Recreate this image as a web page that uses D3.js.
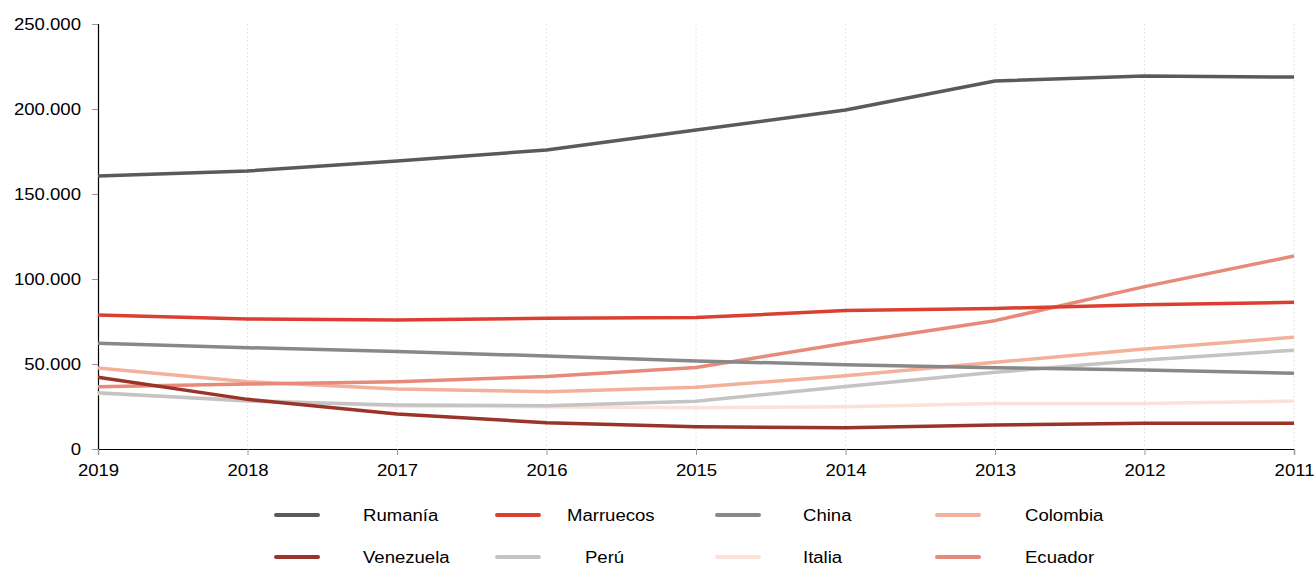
<!DOCTYPE html>
<html><head><meta charset="utf-8">
<script src="https://cdn.jsdelivr.net/npm/d3@7"></script>
<style>body{margin:0;background:#fff;}svg{display:block;font-family:"Liberation Sans",Arial,sans-serif;}</style>
</head><body><svg id="c" width="1315" height="565"></svg>
<script>
const years = ["2019","2018","2017","2016","2015","2014","2013","2012","2011"];
const yTicks = [0, 50000, 100000, 150000, 200000, 250000];
const seriesNames = ["Rumanía","Marruecos","China","Colombia","Venezuela","Perú","Italia","Ecuador"];
const seriesColors = ["#5a5a5a","#d9402f","#888888","#f3b19c","#9a3329","#c4c4c4","#fbe1d7","#e88a7a"];
const rumania   = [160600,163500,169400,175900,187600,199400,216500,219400,218800];
const marruecos = [78800,76500,75900,76900,77300,81400,82700,84900,86300];
const china     = [62200,59600,57300,54700,51800,49600,47800,46500,44500];
const colombia  = [47600,39600,35300,33700,36300,43100,51000,58800,65800];
const venezuela = [42200,29200,20600,15500,13100,12500,14100,15100,15100];
const peru      = [33100,28200,25900,25500,28100,36700,45100,52400,58100];
const italia    = [32700,28800,25300,24900,24300,24900,26800,26700,28200];
const ecuador   = [36600,38200,39600,42700,48000,62200,75500,95500,113500];
const seriesValues = [rumania,marruecos,china,colombia,venezuela,peru,italia,ecuador];
// draw order (back to front)
const drawOrder = [6,5,3,7,2,4,1,0];

const SX = 1.16; // horizontal text stretch seen in reference
const svg = d3.select("#c");
const x = d3.scalePoint().domain(years).range([98,1294]);
const y = d3.scaleLinear().domain([0,250000]).range([449,24]);
const loc = d3.formatLocale({decimal:",",thousands:".",grouping:[3],currency:["","€"]});
const fmt = loc.format(",d");

// vertical grid
svg.append("g").selectAll("line").data(years.slice(1)).join("line")
  .attr("x1",d=>x(d)).attr("x2",d=>x(d)).attr("y1",24).attr("y2",449)
  .attr("stroke","#e6e6e6").attr("stroke-width",1).attr("stroke-dasharray","2,2");

// y axis
const ya = svg.append("g").attr("transform","translate(98,0)")
  .call(d3.axisLeft(y).tickValues(yTicks).tickFormat(fmt).tickSize(6).tickPadding(8));
ya.select(".domain").attr("stroke","#000").attr("stroke-width",1.2);
ya.selectAll(".tick line").attr("stroke","#999");
ya.selectAll("text").attr("font-size",16).attr("fill","#000")
  .attr("font-family","Liberation Sans, Arial, sans-serif")
  .attr("x",-17/SX).attr("transform",`scale(${SX},1)`);

// x axis
const xa = svg.append("g").attr("transform","translate(0,449)")
  .call(d3.axisBottom(x).tickSize(6).tickPadding(10));
xa.select(".domain").attr("stroke","#000").attr("stroke-width",1.2);
xa.selectAll(".tick line").attr("stroke","#999");
xa.selectAll("text").attr("font-size",16).attr("fill","#000")
  .attr("font-family","Liberation Sans, Arial, sans-serif")
  .attr("transform",`scale(${SX},1)`);

const line = d3.line().x((d,i)=>x(years[i])).y(d=>y(d));
svg.append("g").selectAll("path").data(drawOrder).join("path")
  .attr("d",i=>line(seriesValues[i]))
  .attr("fill","none").attr("stroke",i=>seriesColors[i])
  .attr("stroke-width",3.5).attr("stroke-linejoin","round");

// legend
const legSwatchX = [276,497,717,937];
const legTextX = [[363,567,803,1025],[363,585,803,1025]];
const legRowY = [515,557];
const lg = svg.append("g");
seriesNames.forEach((n,i)=>{
  const r = Math.floor(i/4), c = i%4;
  lg.append("line").attr("x1",legSwatchX[c]).attr("x2",legSwatchX[c]+42)
    .attr("y1",legRowY[r]).attr("y2",legRowY[r])
    .attr("stroke",seriesColors[i]).attr("stroke-width",4).attr("stroke-linecap","round");
  lg.append("text").attr("transform",`translate(${legTextX[r][c]},${legRowY[r]}) scale(${SX},1)`)
    .attr("dy","0.35em").attr("font-size",16).attr("fill","#000").text(n);
});
</script></body></html>
